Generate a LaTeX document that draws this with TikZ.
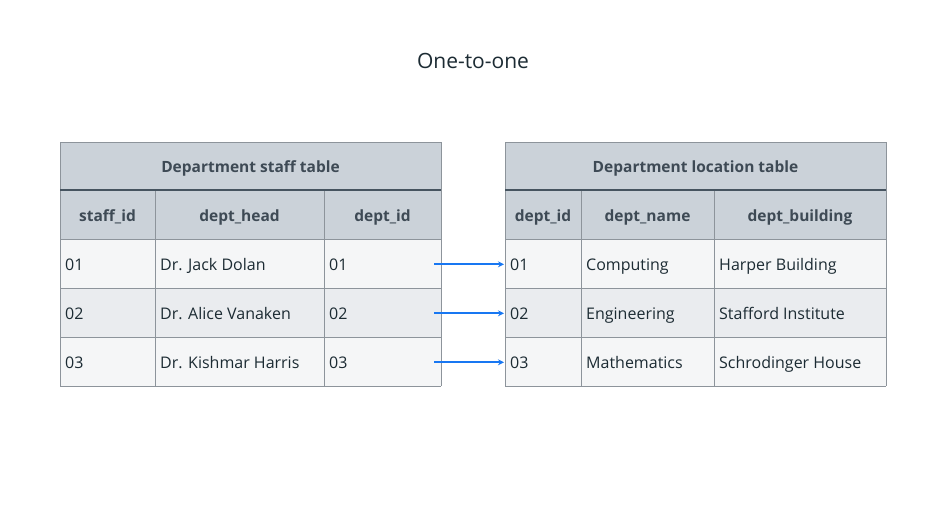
\documentclass[tikz,border=0pt]{standalone}
\usepackage{fontspec}
\setmainfont{Open Sans}
\usepackage{tikz}
\usetikzlibrary{arrows.meta}

\definecolor{headfill}{HTML}{CBD2D9}
\definecolor{rowlight}{HTML}{F5F6F7}
\definecolor{rowdark}{HTML}{EAECEF}
\definecolor{gridline}{HTML}{8D949B}
\definecolor{ruleline}{HTML}{465460}
\definecolor{headink}{HTML}{3E4A55}
\definecolor{cellink}{HTML}{1C2B33}
\definecolor{linkblue}{HTML}{1877F2}

\tikzset{
   grid/.style={draw=gridline, line width=0.9pt},
   rule/.style={draw=ruleline, line width=1.4pt},
   title/.style={text=cellink, font=\fontsize{21}{25}\selectfont, anchor=base},
   headtext/.style={text=headink, font=\bfseries\fontsize{15.5}{18}\selectfont, anchor=base},
   celltext/.style={text=cellink, font=\fontsize{16}{19}\selectfont, anchor=base west, inner xsep=5pt},
   link/.style={draw=linkblue, line width=1.8pt, -{Stealth[length=6pt,width=6pt]}, shorten >=1pt}
}

\begin{document}
\begin{tikzpicture}[x=1pt, y=-1pt]
   \useasboundingbox[fill=white] (0,0) rectangle (940,523);
   % Title
   \node[title] (title) at (473,68) {One-to-one};
   % Fills
   \foreach \x in {60, 505} {
      \fill[headfill] (\x,142) rectangle ++(381,97);
      \fill[rowlight] (\x,239) rectangle ++(381,49);
      \fill[rowdark] (\x,288) rectangle ++(381,49);
      \fill[rowlight] (\x,337) rectangle ++(381,49);
   }
   % Horizontal lines
   \foreach \x in {60, 505}
      \foreach \y in {142, 239, 288, 337, 386}
         \draw[grid] (\x,\y) -- ++(381,0);
   % Vertical lines
   \foreach \x in {60, 441, 505, 886}
      \draw[grid] (\x,142) -- (\x,386);
   \foreach \x in {155, 324, 581, 714}
      \draw[grid] (\x,190) -- (\x,386);
   % Header rules
   \draw[rule] (60,190) -- (441,190);
   \draw[rule] (505,190) -- (886,190);
   % Table titles
   \node[headtext] (lhead) at (250.5,172) {Department staff table};
   \node[headtext] (rhead) at (695.5,172) {Department location table};
   % Column names
   \node[headtext] (lcol1) at (107.5,221) {staff\_id};
   \node[headtext] (lcol2) at (239.5,221) {dept\_head};
   \node[headtext] (lcol3) at (382.5,221) {dept\_id};
   \node[headtext] (rcol1) at (543,221) {dept\_id};
   \node[headtext] (rcol2) at (647.5,221) {dept\_name};
   \node[headtext] (rcol3) at (800,221) {dept\_building};
   % Rows
   \foreach \id/\head/\name/\bldg [count=\i] in {
         01/Dr. Jack Dolan/Computing/Harper Building,
         02/Dr. Alice Vanaken/Engineering/Stafford Institute,
         03/Dr. Kishmar Harris/Mathematics/Schrodinger House} {
      \node[celltext] (lid\i) at (60,221+49*\i) {\id};
      \node[celltext] (lhead\i) at (155,221+49*\i) {\head};
      \node[celltext] (ldept\i) at (324,221+49*\i) {\id};
      \node[celltext] (rdept\i) at (505,221+49*\i) {\id};
      \node[celltext] (rname\i) at (581,221+49*\i) {\name};
      \node[celltext] (rbldg\i) at (714,221+49*\i) {\bldg};
      % links
      \path (rdept\i.west) ++(-71,0) coordinate (src\i);
      \draw[link] (src\i) -- (rdept\i.west);
   }
\end{tikzpicture}
\end{document}
